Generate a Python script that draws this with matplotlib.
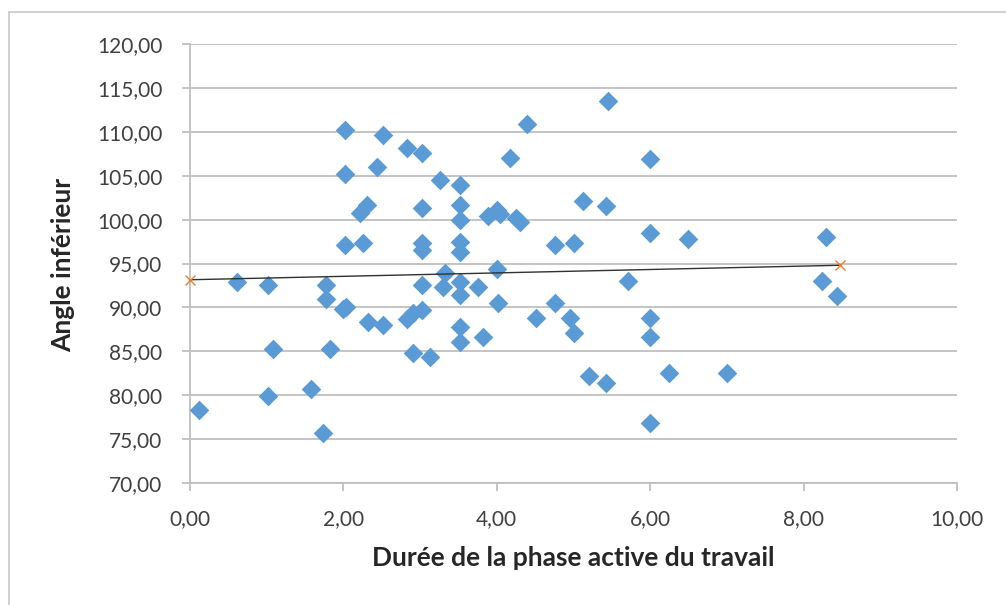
import matplotlib
matplotlib.use("Agg")
import matplotlib.pyplot as plt
from matplotlib.ticker import FuncFormatter, MultipleLocator
from matplotlib.lines import Line2D

duree = [0.12, 0.61, 1.02, 1.08, 1.02, 1.58, 1.73, 1.77, 1.77, 1.83,
         2.02, 2.02, 2.02, 2.00, 2.03, 2.22, 2.31, 2.26, 2.32, 2.52,
         2.44, 2.52, 2.83, 3.02, 3.02, 3.02, 3.02, 2.83, 2.91, 3.02,
         3.02, 2.91, 3.13, 3.26, 3.32, 3.30, 3.52, 3.52, 3.52, 3.52,
         3.75, 3.82, 3.52, 3.52, 3.52, 3.52, 3.52, 4.17, 4.39, 5.45,
         6.00, 3.88, 4.00, 4.04, 4.25, 4.30, 4.76, 5.00, 5.12, 5.42,
         6.00, 6.49, 4.00, 5.71, 4.02, 4.51, 4.76, 4.95, 5.00, 6.00,
         6.00, 5.20, 5.42, 6.25, 7.00, 6.00, 8.29, 8.24, 8.43]
angle = [78.3, 92.9, 92.6, 85.3, 79.9, 80.7, 75.7, 92.6, 91.0, 85.3,
         110.2, 105.2, 97.1, 89.8, 90.1, 100.75, 101.7, 97.3, 88.3, 109.6,
         106.0, 88.0, 108.2, 107.6, 101.3, 97.3, 96.5, 88.7, 89.4, 89.7,
         92.6, 84.8, 84.4, 104.5, 93.9, 92.3, 92.9, 91.4, 87.8, 86.1,
         92.3, 86.6, 103.9, 101.7, 100.0, 97.4, 96.3, 107.0, 110.9, 113.5,
         106.9, 100.4, 101.1, 100.6, 100.2, 99.7, 97.1, 97.3, 102.1, 101.5,
         98.5, 97.8, 94.4, 93.0, 90.5, 88.8, 90.5, 88.8, 87.1, 88.8,
         86.6, 82.2, 81.4, 82.5, 82.5, 76.8, 98.0, 93.0, 91.3]

trend_x = [0.0, 8.48]
trend_y = [93.15, 94.8]

x_label = "Durée de la phase active du travail"
y_label = "Angle inférieur"

plt.rcParams['font.family'] = ['Lato', 'DejaVu Sans']

fig = plt.figure(figsize=(10.06, 6.05), dpi=100)
ax = fig.add_axes([190/1006, 1-483/605, (957-190)/1006, (483-44)/605])

grid_c = "#bfbfbf"
ax.set_xlim(0, 10)
ax.set_ylim(70, 120)
ax.yaxis.set_major_locator(MultipleLocator(5))
ax.xaxis.set_major_locator(MultipleLocator(2))
fmt = FuncFormatter(lambda v, p: f"{v:.2f}".replace(".", ","))
ax.xaxis.set_major_formatter(fmt)
ax.yaxis.set_major_formatter(fmt)
ax.grid(axis="y", color=grid_c, linewidth=1.3)
ax.set_axisbelow(True)
for s in ["top", "right"]:
    ax.spines[s].set_visible(False)
for s in ["left", "bottom"]:
    ax.spines[s].set_color(grid_c)
    ax.spines[s].set_linewidth(1.3)
ax.tick_params(axis="both", colors=grid_c, labelcolor="#404040", labelsize=15,
               length=6, width=1.3, direction="out")
ax.tick_params(axis="y", pad=14)
ax.tick_params(axis="x", pad=13)

ax.scatter(duree, angle, marker="D", s=100, color="#5B9BD5", zorder=3, linewidths=0)
ax.plot(trend_x, trend_y, color="#303030", linewidth=1.0, zorder=4,
        marker="x", markeredgecolor="#ED7D31", markersize=7, markeredgewidth=1.0,
        clip_on=False)

ax.set_xlabel(x_label, fontsize=19, fontweight="bold", color="#262626")
ax.set_ylabel(y_label, fontsize=19, fontweight="bold", color="#262626")
ax.xaxis.set_label_coords((573 - 190) / 767, (483 - 558) / 439)
ax.xaxis.label.set_va("center")
ax.yaxis.set_label_coords((63 - 190) / 767, (483 - 265) / 439)
ax.yaxis.label.set_va("center")

# outer chart border (top & left visible)
fig.add_artist(Line2D([9/1006, 1.0], [1-12/605, 1-12/605], color="#c8c8c8", lw=1.2,
                      transform=fig.transFigure))
fig.add_artist(Line2D([9/1006, 9/1006], [0.0, 1-12/605], color="#c8c8c8", lw=1.2,
                      transform=fig.transFigure))

fig.savefig("out.png", dpi=100)
